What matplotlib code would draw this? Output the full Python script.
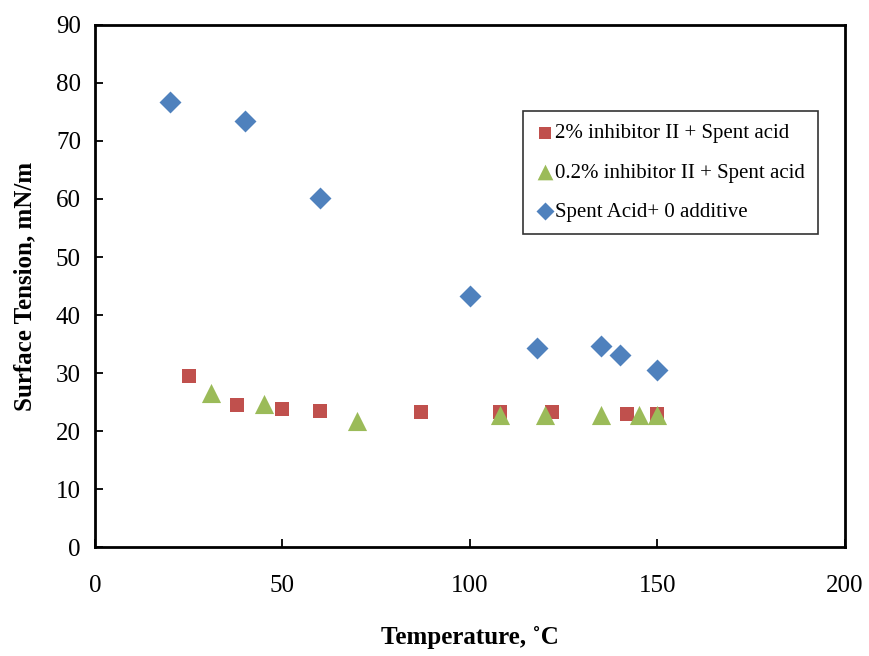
import matplotlib
matplotlib.use("Agg")
import matplotlib.pyplot as plt

# Surface tension of spent acid vs temperature
temp_2pct = [25, 38, 50, 60, 87, 108, 122, 142, 150]
st_2pct = [29.5, 24.5, 23.8, 23.4, 23.3, 23.3, 23.3, 22.9, 22.9]

temp_02pct = [31, 45, 70, 108, 120, 135, 145, 150]
st_02pct = [26.5, 24.7, 21.7, 22.7, 22.7, 22.7, 22.7, 22.7]

temp_none = [20, 40, 60, 100, 118, 135, 140, 150]
st_none = [76.7, 73.4, 60.2, 43.3, 34.3, 34.7, 33.1, 30.6]

x_ticks = [0, 50, 100, 150, 200]
y_ticks = [0, 10, 20, 30, 40, 50, 60, 70, 80, 90]

plt.rcParams['font.family'] = ['Liberation Serif', 'DejaVu Serif']

fig = plt.figure(figsize=(8.7, 6.56), dpi=100)
ax = fig.add_axes([0.109, 0.166, 0.862, 0.796])

ax.scatter(temp_2pct, st_2pct, marker='s', s=110, color='#C0504D',
           linewidths=0, label='2% inhibitor II + Spent acid', zorder=3)
ax.scatter(temp_02pct, st_02pct, marker='^', s=190, color='#9BBB59',
           linewidths=0, label='0.2% inhibitor II + Spent acid', zorder=4)
ax.scatter(temp_none, st_none, marker='D', s=125, color='#4F81BD',
           linewidths=0, label='Spent Acid+ 0 additive', zorder=3)

ax.set_xlim(0, 200)
ax.set_ylim(0, 90)
ax.set_xticks(x_ticks)
ax.set_yticks(y_ticks)
ax.tick_params(direction='in', length=6, width=1.3, labelsize=18, pad=10)
ax.tick_params(axis='x', pad=20)
for sp in ax.spines.values():
    sp.set_linewidth(2)

ax.set_xlabel('Temperature, ˚C', fontsize=18, fontweight='bold', labelpad=21)
ax.set_ylabel('Surface Tension, mN/m', fontsize=18, fontweight='bold', labelpad=14)

leg = ax.legend(loc='upper left', bbox_to_anchor=(0.571, 0.835), fontsize=15,
                frameon=True, fancybox=False, edgecolor='black',
                handletextpad=0.05, handlelength=0.9, labelspacing=0.95,
                borderpad=0.6, borderaxespad=0.0, markerscale=0.82)
leg.get_frame().set_linewidth(1.2)

fig.savefig('out.png', dpi=100)
